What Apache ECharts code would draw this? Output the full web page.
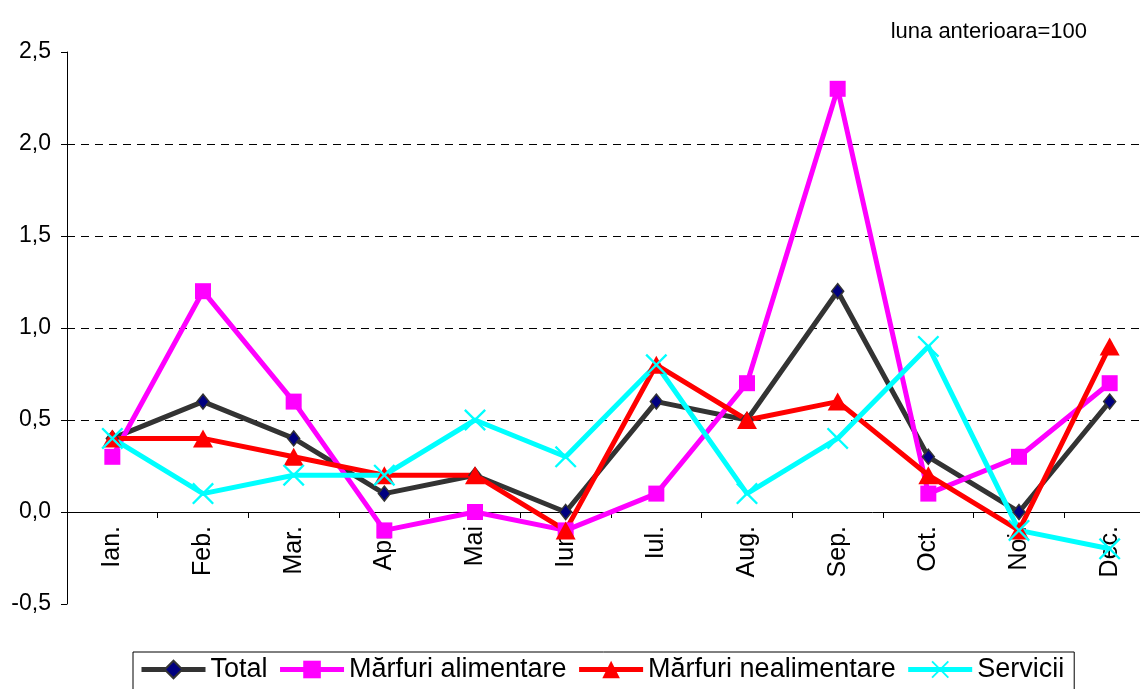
<!DOCTYPE html>
<html><head><meta charset="utf-8">
<script src="https://cdn.jsdelivr.net/npm/echarts@6/dist/echarts.min.js"></script>
<style>html,body{margin:0;padding:0;background:#fff}#c{width:1140px;height:689px}</style>
</head><body><div id="c"></div>
<script>
var categories = ['Ian.','Feb.','Mar.','Apr.','Mai','Iun.','Iul.','Aug.','Sep.','Oct.','Noi.','Dec.'];
var total = [0.4, 0.6, 0.4, 0.1, 0.2, 0.0, 0.6, 0.5, 1.2, 0.3, 0.0, 0.6];
var alimentare = [0.3, 1.2, 0.6, -0.1, 0.0, -0.1, 0.1, 0.7, 2.3, 0.1, 0.3, 0.7];
var nealimentare = [0.4, 0.4, 0.3, 0.2, 0.2, -0.1, 0.8, 0.5, 0.6, 0.2, -0.1, 0.9];
var servicii = [0.4, 0.1, 0.2, 0.2, 0.5, 0.3, 0.8, 0.1, 0.4, 0.9, -0.1, -0.2];
var seriesNames = ['Total','Mărfuri alimentare','Mărfuri nealimentare','Servicii'];
var yMin = -0.5, yMax = 2.5, yStep = 0.5;

var xPath = 'path://M0,1.5L1.5,0L10,8.5L18.5,0L20,1.5L11.5,10L20,18.5L18.5,20L10,11.5L1.5,20L0,18.5L8.5,10Z';
var chart = echarts.init(document.getElementById('c'));
var fontFam = 'Liberation Sans, Arial, sans-serif';
var gridTop = 52, gridBottom = 85, H = 689;
var plotH = H - gridTop - gridBottom;
var zeroOffset = -plotH * (0 - yMin) / (yMax - yMin);
chart.setOption({
  animation: false,
  title: { text: 'luna anterioara=100', right: 48, top: 16, textStyle: { fontFamily: fontFam, fontSize: 22, fontWeight: 'normal', color: '#000' } },
  grid: { left: 67, top: gridTop, bottom: gridBottom, width: 1088, outerBoundsMode: 'none', containLabel: false },
  legend: {
    left: 133, top: 652, data: seriesNames,
    borderColor: '#000', borderWidth: 1, padding: [4, 10, 10, 6],
    itemWidth: 64, itemHeight: 22, itemGap: 10,
    lineStyle: { width: 5 },
    textStyle: { fontFamily: fontFam, fontSize: 27, color: '#000' }
  },
  xAxis: {
    type: 'category', data: categories, boundaryGap: true,
    offset: zeroOffset,
    axisLine: { onZero: false, lineStyle: { color: '#000', width: 1 } },
    axisTick: { show: true, length: 6, lineStyle: { color: '#000' } },
    axisLabel: { rotate: 90, margin: 14, fontFamily: fontFam, fontSize: 25, color: '#000', interval: 0 }
  },
  yAxis: {
    type: 'value', min: yMin, max: yMax, interval: yStep,
    axisLine: { show: true, lineStyle: { color: '#000' } },
    axisTick: { show: true, length: 6, lineStyle: { color: '#000' } },
    axisLabel: { margin: 16, fontFamily: fontFam, fontSize: 23, color: '#000',
      formatter: function (v) { return v.toFixed(1).replace('.', ','); } },
    splitLine: { show: true, lineStyle: { type: [8, 6], width: 1,
      color: ['rgba(0,0,0,0)','rgba(0,0,0,0)','#000','#000','#000','#000','rgba(0,0,0,0)'] } }
  },
  series: [
    { name: seriesNames[0], type: 'line', data: total, symbol: 'diamond', symbolSize: [12, 15],
      lineStyle: { color: '#333333', width: 5 }, itemStyle: { color: '#000080', borderColor: '#333333', borderWidth: 1.5 } },
    { name: seriesNames[1], type: 'line', data: alimentare, symbol: 'rect', symbolSize: 16,
      lineStyle: { color: '#FF00FF', width: 5 }, itemStyle: { color: '#FF00FF' } },
    { name: seriesNames[2], type: 'line', data: nealimentare, symbol: 'triangle', symbolSize: [20, 18],
      lineStyle: { color: '#FF0000', width: 5 }, itemStyle: { color: '#FF0000' } },
    { name: seriesNames[3], type: 'line', data: servicii, symbol: xPath, symbolSize: 22,
      lineStyle: { color: '#00FFFF', width: 5 }, itemStyle: { color: '#00FFFF' } }
  ]
});
</script></body></html>
